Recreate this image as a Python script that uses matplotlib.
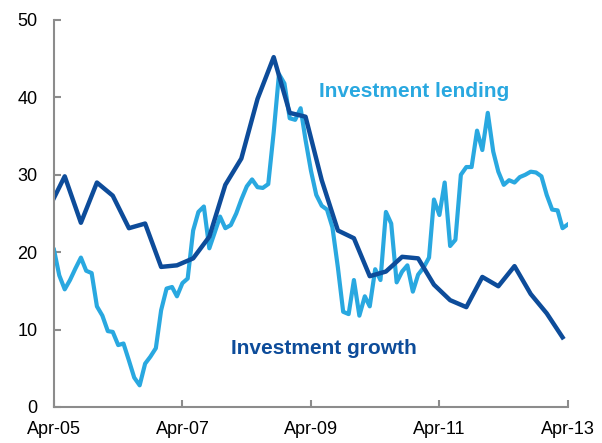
import matplotlib
matplotlib.use("Agg")
import matplotlib.pyplot as plt
import matplotlib.dates as mdates
import pandas as pd

# Investment lending, monthly from Apr-05 to Apr-13 (%)
lending = [20.3, 17.0, 15.2, 16.4, 17.9, 19.3, 17.6, 17.3, 13.0, 11.8,
           9.8, 9.7, 8.0, 8.2, 6.0, 3.8, 2.8, 5.6, 6.5, 7.6,
           12.5, 15.3, 15.5, 14.3, 16.0, 16.6, 22.8, 25.2, 25.9, 20.5,
           22.5, 24.6, 23.1, 23.5, 25.0, 26.8, 28.5, 29.4, 28.4, 28.3,
           28.8, 35.5, 43.0, 41.8, 37.3, 37.1, 38.6, 34.5, 30.5, 27.4,
           26.0, 25.5, 23.2, 18.0, 12.3, 12.0, 16.4, 11.8, 14.3, 13.0,
           17.8, 16.4, 25.2, 23.7, 16.1, 17.5, 18.3, 14.9, 17.1, 18.0,
           19.3, 26.8, 24.8, 29.0, 20.8, 21.6, 30.0, 31.0, 31.0, 35.7,
           33.2, 38.0, 33.0, 30.4, 28.7, 29.3, 29.0, 29.7, 30.0, 30.4,
           30.3, 29.8, 27.4, 25.5, 25.4, 23.1, 23.6]

# Investment growth, quarterly from Mar-05 to Mar-13 (%)
growth = [25.6, 29.8, 23.8, 29.0, 27.3, 23.1, 23.7, 18.1, 18.3, 19.2,
          22.0, 28.7, 32.1, 39.8, 45.2, 38.0, 37.5, 29.3, 22.8, 21.8,
          16.9, 17.5, 19.4, 19.2, 15.8, 13.8, 12.9, 16.8, 15.6, 18.2,
          14.6, 12.1, 9.0]

lending_dates = pd.date_range("2005-04-01", periods=len(lending), freq="MS")
growth_dates = pd.date_range("2005-03-01", periods=len(growth), freq="3MS")
tick_dates = pd.date_range("2005-04-01", "2013-04-01", freq="24MS")

light = "#29A8E0"
dark = "#0D4C9A"
grey = "#8C8C8C"

plt.rcParams["font.family"] = ["Liberation Sans", "DejaVu Sans"]

fig = plt.figure(figsize=(6.02, 4.43), dpi=100)
ax = fig.add_axes([0.0897, 0.0813, 0.8538, 0.8736])

ax.plot(lending_dates, lending, color=light, lw=3.0, solid_joinstyle="round")
ax.plot(growth_dates, growth, color=dark, lw=3.2, solid_joinstyle="round")

ax.set_xlim(lending_dates[0], lending_dates[-1])
ax.set_ylim(0, 50)
ax.set_yticks([0, 10, 20, 30, 40, 50])
ax.set_xticks(tick_dates)
ax.xaxis.set_major_formatter(mdates.DateFormatter("%b-%y"))

for side in ["top", "right"]:
    ax.spines[side].set_visible(False)
for side in ["left", "bottom"]:
    ax.spines[side].set_color(grey)
    ax.spines[side].set_linewidth(1.5)

ax.tick_params(axis="both", direction="in", length=5, width=1.5, color=grey,
               labelsize=13, labelcolor="black")
ax.tick_params(axis="y", pad=12)
ax.tick_params(axis="x", pad=10)

ax.text(pd.Timestamp("2009-05-15"), 40.7, "Investment lending", color=light,
        fontsize=15, fontweight="bold", va="center", ha="left")
ax.text(pd.Timestamp("2008-01-01"), 7.6, "Investment growth", color=dark,
        fontsize=15, fontweight="bold", va="center", ha="left")

fig.savefig("out.png", dpi=100)
